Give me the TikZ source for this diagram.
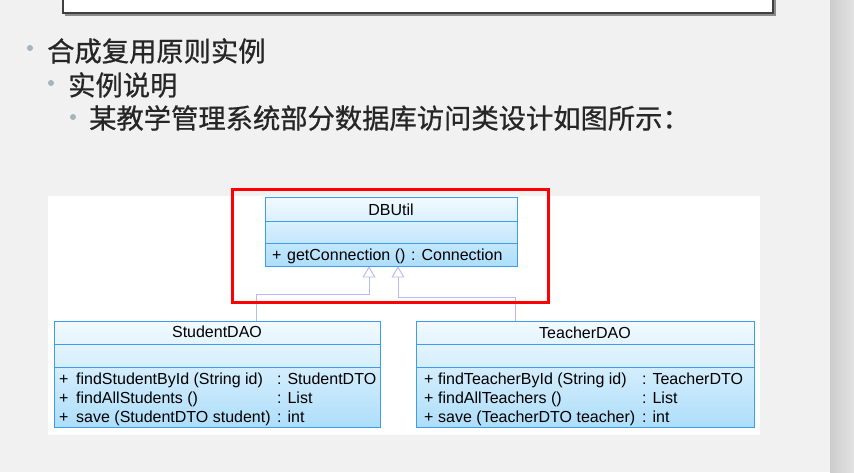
\documentclass[tikz,border=0pt]{standalone}
\usepackage{fontspec}
\setmainfont{Liberation Sans}
\newfontfamily\cjk[FakeBold=0.7]{Noto Sans CJK SC}
\usepackage{tikz}
\usetikzlibrary{shapes}
\usetikzlibrary{arrows.meta}
\pgfdeclarelayer{bglayer}
\pgfdeclarelayer{edgelayer}
\pgfdeclarelayer{nodelayer}
\pgfsetlayers{bglayer,edgelayer,nodelayer,main}
\definecolor{pagebg}{rgb}{0.945,0.945,0.945}
\definecolor{stripbg}{rgb}{0.89,0.89,0.89}
\definecolor{frame}{rgb}{0.25,0.25,0.25}
\definecolor{bullet}{rgb}{0.64,0.71,0.74}
\definecolor{clsline}{rgb}{0.24,0.61,0.94}
\definecolor{clstop}{rgb}{0.95,0.98,1.0}
\definecolor{clsbot}{rgb}{0.68,0.87,0.98}
\definecolor{inhline}{rgb}{0.72,0.72,0.96}
\definecolor{redmark}{rgb}{1.0,0.0,0.0}
\tikzstyle{none}=[inner sep=0pt]
\tikzstyle{cls}=[rectangle, draw=clsline, line width=0.9pt, top color=clstop, bottom color=clsbot, inner sep=0pt]
\tikzstyle{sep}=[draw=clsline, line width=0.9pt]
\tikzstyle{txt}=[inner sep=0pt, anchor=base west, font=\fontsize{16}{18}\selectfont]
\tikzstyle{ttl}=[inner sep=0pt, anchor=base, font=\fontsize{16}{18}\selectfont]
\tikzstyle{item}=[inner sep=0pt, anchor=west, text=black!85, font=\cjk\fontsize{27.3}{32}\selectfont]
\tikzstyle{dot}=[circle, fill=bullet, inner sep=0pt, minimum size=6pt]
\tikzstyle{inh}=[draw=inhline, line width=0.9pt, -{Triangle[open, length=11pt, width=13pt]}]

\begin{document}
\begin{tikzpicture}[x=1pt, y=-1pt]
    \useasboundingbox (0,0) rectangle (854,472);
    \begin{pgfonlayer}{bglayer}
	\fill [pagebg] (0,0) rectangle (854,472);
	\shade [left color=stripbg!90!black, right color=stripbg] (830,0) rectangle (854,472);
	\fill [black!45] (65,-10) rectangle (776,16);
	\draw [frame, line width=2.5pt, fill=white] (63,-10) rectangle (773,13);
	\fill [white] (48,196) rectangle (760,435);
    \end{pgfonlayer}
    \begin{pgfonlayer}{nodelayer}
	\node [style=dot] (10) at (30, 48) {};
	\node [style=item] (11) at (47, 51) {合成复用原则实例};
	\node [style=dot] (12) at (51, 83) {};
	\node [style=item] (13) at (68, 85) {实例说明};
	\node [style=dot] (14) at (73, 117) {};
	\node [style=item] (15) at (89, 118) {某教学管理系统部分数据库访问类设计如图所示：};
	% classes
	\node [style=cls, minimum width=252pt, minimum height=69pt] (0) at (391, 231.5) {};
	\node [style=cls, minimum width=326pt, minimum height=106pt] (1) at (217, 374) {};
	\node [style=cls, minimum width=338pt, minimum height=106pt] (2) at (585, 374) {};
	\draw [style=sep] (265, 221) -- (517, 221);
	\draw [style=sep] (265, 243) -- (517, 243);
	\draw [style=sep] (54, 344) -- (380, 344);
	\draw [style=sep] (54, 367) -- (380, 367);
	\draw [style=sep] (416, 344) -- (754, 344);
	\draw [style=sep] (416, 367) -- (754, 367);
	\node [style=ttl] (20) at (391, 215) {DBUtil};
	\node [style=txt] (21) at (272, 260) {+};
	\node [style=txt] (22) at (287, 260) {getConnection ()};
	\node [style=txt] (23) at (411, 260) {: Connection};
	\node [style=ttl] (30) at (217, 337.5) {StudentDAO};
	\node [style=txt] (31) at (59, 384) {+};
	\node [style=txt] (32) at (76, 384) {findStudentById (String id)};
	\node [style=txt] (33) at (277, 384) {: StudentDTO};
	\node [style=txt] (34) at (59, 403) {+};
	\node [style=txt] (35) at (76, 403) {findAllStudents ()};
	\node [style=txt] (36) at (277, 403) {: List};
	\node [style=txt] (37) at (59, 422) {+};
	\node [style=txt] (38) at (76, 422) {save (StudentDTO student)};
	\node [style=txt] (39) at (277, 422) {: int};
	\node [style=ttl] (40) at (585, 338) {TeacherDAO};
	\node [style=txt] (41) at (424, 384) {+};
	\node [style=txt] (42) at (438, 384) {findTeacherById (String id)};
	\node [style=txt] (43) at (642, 384) {: TeacherDTO};
	\node [style=txt] (44) at (424, 403) {+};
	\node [style=txt] (45) at (438, 403) {findAllTeachers ()};
	\node [style=txt] (46) at (642, 403) {: List};
	\node [style=txt] (47) at (424, 422) {+};
	\node [style=txt] (48) at (438, 422) {save (TeacherDTO teacher)};
	\node [style=txt] (49) at (642, 422) {: int};
    \end{pgfonlayer}
    \begin{pgfonlayer}{edgelayer}
	\coordinate (50) at (369, 294);
	\coordinate (51) at (398, 297);
	\draw [style=inh] ([xshift=39pt]1.north) |- (50) -- (0.south -| 50);
	\draw [style=inh] ([xshift=-70pt]2.north) |- (51) -- (0.south -| 51);
    \end{pgfonlayer}
    \draw [redmark, line width=3pt] (232, 189) rectangle (548, 302);
\end{tikzpicture}
\end{document}
